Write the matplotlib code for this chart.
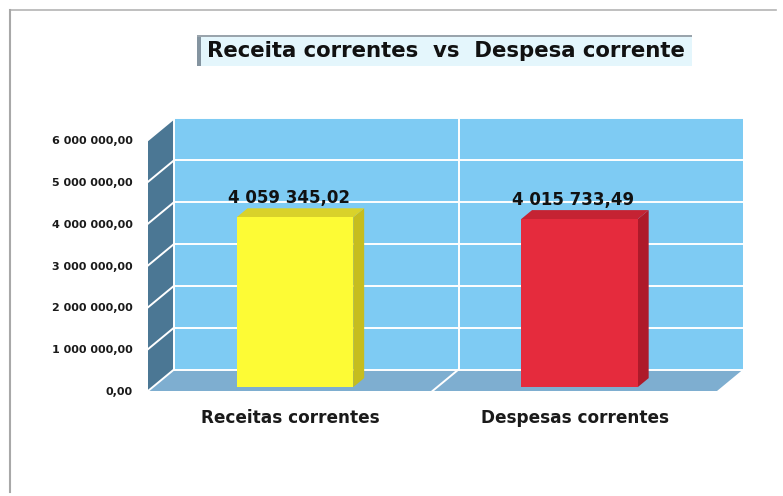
import matplotlib
matplotlib.use("Agg")
import matplotlib.pyplot as plt
from matplotlib.patches import Polygon, Rectangle
from matplotlib.lines import Line2D

# ---- data ----
categories = ["Receitas correntes", "Despesas correntes"]
values = [4059345.02, 4015733.49]
value_labels = ["4 059 345,02", "4 015 733,49"]
yticks = [0, 1000000, 2000000, 3000000, 4000000, 5000000, 6000000]
ytick_labels = ["0,00", "1 000 000,00", "2 000 000,00", "3 000 000,00",
                "4 000 000,00", "5 000 000,00", "6 000 000,00"]
title = "Receita correntes  vs  Despesa corrente"

bar_front = ["#fdfb35", "#e52b3d"]
bar_side = ["#c6bd1e", "#ae1a2a"]
bar_top = ["#d9d22a", "#c52333"]

FONT = "DejaVu Sans"
W, H = 783, 496
fig = plt.figure(figsize=(W / 100, H / 100), dpi=100)
fig.patch.set_facecolor("white")

# front plane of the 3D box
L, R, B, T = 148, 717, 391, 140
ax = fig.add_axes([L / W, (H - B) / H, (R - L) / W, (B - T) / H])
ax.set_xlim(0, 2)
ax.set_ylim(0, 6000000)
for s in ax.spines.values():
    s.set_visible(False)
ax.patch.set_visible(False)

DX = 26 / (R - L) * 2
DY = 21.5 / (B - T) * 6000000


def P(x, y, z):
    return (x + z * DX, y + z * DY)


def poly(pts, color, z, ec="none", lw=0):
    ax.add_patch(Polygon(pts, closed=True, facecolor=color, edgecolor=ec,
                         linewidth=lw, zorder=z, clip_on=False))


def line(p1, p2, z=3, color="white", lw=1.4):
    ax.add_line(Line2D([p1[0], p2[0]], [p1[1], p2[1]], color=color, lw=lw,
                       zorder=z, clip_on=False))


ymax = yticks[-1]
# walls
poly([P(0, 0, 1), P(2, 0, 1), P(2, ymax, 1), P(0, ymax, 1)], "#7ecbf3", 1)
poly([P(0, 0, 0), P(0, 0, 1), P(0, ymax, 1), P(0, ymax, 0)], "#4b7794", 1)
poly([P(0, 0, 0), P(2, 0, 0), P(2, 0, 1), P(0, 0, 1)], "#7eaed0", 1)

for v in yticks:
    line(P(0, v, 1), P(2, v, 1))
    line(P(0, v, 0), P(0, v, 1))
line(P(1, 0, 1), P(1, ymax, 1))
line(P(1, 0, 0), P(1, 0, 1))
line(P(0, 0, 1), P(0, ymax, 1))

# bars
w = 0.41
z0, z1 = 0.18, 0.6
for i, v in enumerate(values):
    x0 = i + 0.5 - w / 2
    x1 = x0 + w
    poly([P(x1, 0, z0), P(x1, 0, z1), P(x1, v, z1), P(x1, v, z0)], bar_side[i], 5)
    poly([P(x0, v, z0), P(x1, v, z0), P(x1, v, z1), P(x0, v, z1)], bar_top[i], 5)
    poly([P(x0, 0, z0), P(x1, 0, z0), P(x1, v, z0), P(x0, v, z0)], bar_front[i], 6)
    ax.annotate(value_labels[i], xy=(i + 0.5 - 0.005, v + z1 * DY), xytext=(0, 4),
                textcoords="offset points", ha="center", va="baseline",
                fontsize=12, fontweight="bold", family=FONT, color="#111111",
                zorder=8, annotation_clip=False)

ax.set_yticks(yticks, ytick_labels)
ax.set_xticks([0.5, 1.5], categories)
ax.tick_params(axis="y", length=0, pad=11, labelsize=8)
ax.tick_params(axis="x", length=0, pad=13, labelsize=12.2)
for lab in ax.get_yticklabels() + ax.get_xticklabels():
    lab.set_fontweight("bold")
    lab.set_family(FONT)
    lab.set_color("#1a1a1a")


# ---- title box ----
def fx(px):
    return px / W


def fy(py):
    return 1 - py / H


fig.patches.append(Rectangle((fx(197), fy(66)), fx(692) - fx(197), fy(36) - fy(66),
                             transform=fig.transFigure, facecolor="#e4f6fc",
                             edgecolor="none", zorder=0))
fig.patches.append(Rectangle((fx(197), fy(66)), fx(201) - fx(197), fy(35) - fy(66),
                             transform=fig.transFigure, facecolor="#8494a0",
                             edgecolor="none", zorder=1))
fig.patches.append(Rectangle((fx(197), fy(37)), fx(692) - fx(197), fy(35) - fy(37),
                             transform=fig.transFigure, facecolor="#9aa4ac",
                             edgecolor="none", zorder=1))
fig.text(fx(446), fy(51), title, ha="center", va="center", fontsize=15.3,
         fontweight="bold", family=FONT, color="#111111")

# outer frame (top and left)
fig.add_artist(Line2D([fx(10), fx(776)], [fy(10), fy(10)], transform=fig.transFigure,
                      color="#b4b4b4", lw=1.2))
fig.add_artist(Line2D([fx(10), fx(10)], [fy(10), fy(492)], transform=fig.transFigure,
                      color="#a8a8a8", lw=1.5))

fig.savefig("out.png", dpi=100)
